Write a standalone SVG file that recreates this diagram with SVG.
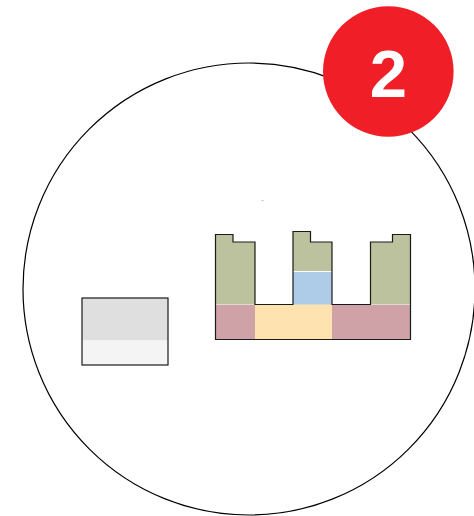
<svg xmlns="http://www.w3.org/2000/svg" width="474" height="516" viewBox="0 0 474 516">
<style>
.o{fill:none;stroke:#1a1a1a;stroke-width:1.2}
.g{fill:#bcc29d}.r{fill:#cfa2a8}.y{fill:#fee3b0}.b{fill:#aecce8}
</style>
<rect width="474" height="516" fill="#fff"/>
<g id="outer-circle"><circle cx="249" cy="289" r="226" fill="none" stroke="#000" stroke-width="1.2"/></g>
<g id="small-block">
<rect x="82" y="298" width="86" height="42.500" fill="#dfdfdf"/>
<rect x="82" y="340.500" width="86" height="24.500" fill="#f4f4f4"/>
<rect class="o" x="82" y="298" width="86" height="67"/>
</g>
<g id="large-block">
<path class="g" d="M215.500 234.500H233V242H255V304.500H215.500Z"/>
<path class="g" d="M293 231.500H310.500V242H332V271H293Z"/>
<path class="g" d="M370.500 242H392.500V234.500H410.500V304.500H370.500Z"/>
<rect class="b" x="293" y="271.500" width="39" height="33.500"/>
<rect class="r" x="215.500" y="304.500" width="40" height="35"/>
<rect class="y" x="255" y="304.500" width="77" height="35"/>
<rect class="r" x="332" y="304.500" width="78.500" height="35"/>
<path d="M215.500 304.500H255M370.500 304.500H410.500" stroke="#dcdcc8" stroke-width="1" fill="none"/>
<path d="M293 271.500H332" stroke="#fff" stroke-width="1.200" fill="none"/>
<path class="o" d="M215.500 234.500H233V242H255V304.500H293V231.500H310.500V242H332V304.500H370.500V242H392.500V234.500H410.500V339.500H215.500Z"/>
<rect x="261.500" y="200" width="2" height="1" fill="#bbb"/>
</g>
<g id="badge">
<circle cx="388.300" cy="71.500" r="65.300" fill="#f01f27"/>
<text x="388.500" y="97" font-family="Liberation Sans, Arial, sans-serif" font-size="67" font-weight="700" fill="#fff" text-anchor="middle">2</text>
</g>
</svg>
